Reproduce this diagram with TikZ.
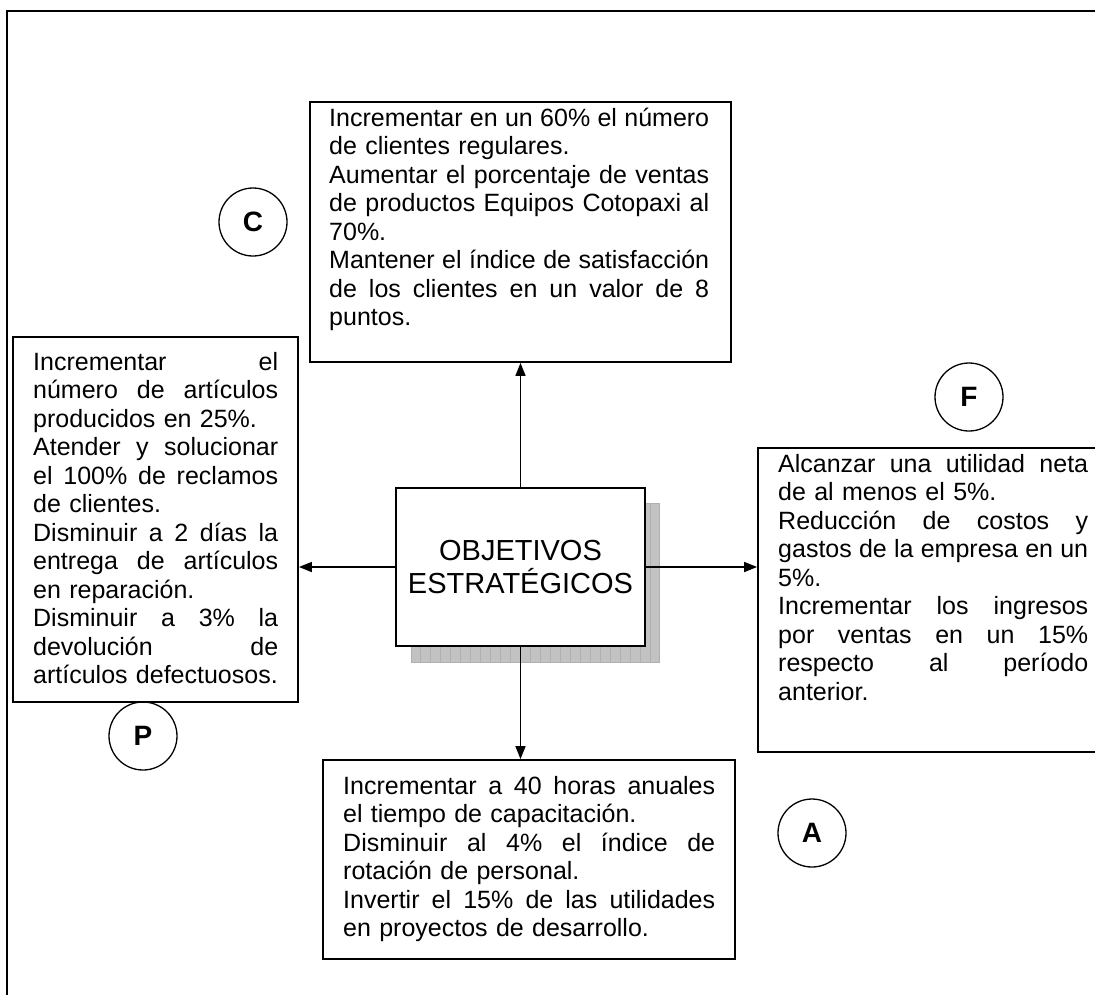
\documentclass[tikz,border=0pt]{standalone}
\usepackage{fontspec}
\setmainfont{Liberation Sans}
\usetikzlibrary{arrows.meta}
% one fully justified line of a given width (font interword glue restored)
\newcommand\jl[2]{\makebox[#1][s]{\spaceskip=0pt\relax\xspaceskip=0pt\relax#2}}

\begin{document}
\begin{tikzpicture}[x=1pt,y=-1pt,
  frame/.style={draw,line width=1.8pt,rectangle,inner sep=0pt},
  boxtext/.style={anchor=north west,inner sep=0pt,align=left,
    font=\fontsize{25}{28.5}\selectfont},
  badge/.style={draw,circle,line width=1.3pt,minimum size=68pt,inner sep=0pt,
    font=\fontsize{28}{30}\selectfont\bfseries},
  link/.style={line width=1.6pt,-{Triangle[length=13pt,width=10pt]}}]

\path[use as bounding box] (0,0) rectangle (1095,994);
\clip (0,0) rectangle (1095,994);

% page frame
\draw[line width=2pt] (7,10.5) rectangle (1130,1030);

% hatched shadow behind the central box
\fill[gray!48] (411,503) rectangle (659,662);
\draw[gray!62,line width=0.6pt,step=10] (411,503) grid (659,662);
\draw[gray!62,line width=0.6pt] (411,503) rectangle (659,662);

% central box
\node[frame,fill=white,minimum width=249pt,minimum height=158pt,align=center,
  font=\fontsize{29}{33.3}\selectfont] (obj) at (520.5,567) {OBJETIVOS\\ESTRAT\'EGICOS};

% perspective boxes
\node[frame,minimum width=421pt,minimum height=260pt] (cbox) at (520.5,232) {};
\node[frame,minimum width=285pt,minimum height=365pt] (pbox) at (155.5,519.5) {};
\node[frame,minimum width=357pt,minimum height=304pt] (fbox) at (936.5,600) {};
\node[frame,minimum width=412pt,minimum height=199pt] (abox) at (529,859.5) {};

% texts of the boxes
\node[boxtext,text width=380pt] (ctext) at (329,105) {%
\rule{0pt}{21pt}\jl{380pt}{Incrementar en un 60\% el número}\\
de clientes regulares.\\
\jl{380pt}{Aumentar el porcentaje de ventas}\\
\jl{380pt}{de productos Equipos Cotopaxi al}\\
70\%.\\
\jl{380pt}{Mantener el índice de satisfacción}\\
\jl{380pt}{de los clientes en un valor de 8}\\
puntos.};

\node[boxtext,text width=245pt] (ptext) at (33,349) {%
\rule{0pt}{21pt}\jl{245pt}{Incrementar el}\\
\jl{245pt}{número de artículos}\\
producidos en 25\%.\\
\jl{245pt}{Atender y solucionar}\\
\jl{245pt}{el 100\% de reclamos}\\
de clientes.\\
\jl{245pt}{Disminuir a 2 días la}\\
\jl{245pt}{entrega de artículos}\\
en reparación.\\
\jl{245pt}{Disminuir a 3\% la}\\
\jl{245pt}{devolución de}\\
artículos defectuosos.};

\node[boxtext,text width=310pt] (ftext) at (778,451) {%
\rule{0pt}{21pt}\jl{310pt}{Alcanzar una utilidad neta}\\
de al menos el 5\%.\\
\jl{310pt}{Reducción de costos y}\\
\jl{310pt}{gastos de la empresa en un}\\
5\%.\\
\jl{310pt}{Incrementar los ingresos}\\
\jl{310pt}{por ventas en un 15\%}\\
\jl{310pt}{respecto al período}\\
anterior.};

\node[boxtext,text width=372pt] (atext) at (343,773) {%
\rule{0pt}{21pt}\jl{372pt}{Incrementar a 40 horas anuales}\\
el tiempo de capacitación.\\
\jl{372pt}{Disminuir al 4\% el índice de}\\
rotación de personal.\\
\jl{372pt}{Invertir el 15\% de las utilidades}\\
en proyectos de desarrollo.};

% perspective letters
\node[badge] (lc) at (253,222) {C};
\node[badge] (lp) at (143,736) {P};
\node[badge] (lf) at (969,397) {F};
\node[badge] (la) at (812,833) {A};

% connectors
\draw[link] (obj.north) -- (obj.north |- cbox.south);
\draw[link] (obj.west) -- (obj.west -| pbox.east);
\draw[link] (obj.east) -- (obj.east -| fbox.west);
\draw[link] (obj.south) -- (obj.south |- abox.north);
\end{tikzpicture}
\end{document}
